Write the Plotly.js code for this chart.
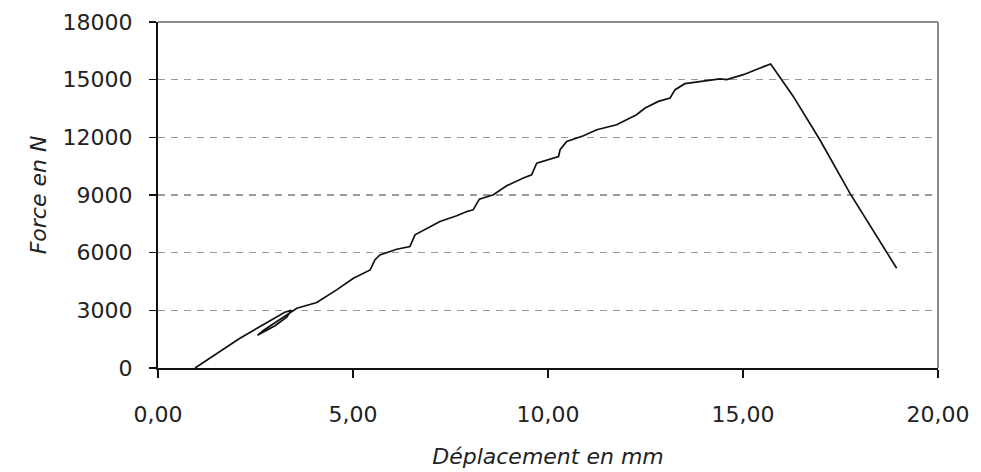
<!DOCTYPE html>
<html>
<head>
<meta charset="utf-8">
<script src="https://cdn.plot.ly/plotly-3.0.1.min.js"></script>
<style>html,body{margin:0;padding:0;background:#fff;}#chart{width:981px;height:472px;}</style>
</head>
<body>
<div id="chart"></div>
<script>
// Displacement (mm) and force (N)
const dispMm = [0.95, 1.50, 2.10, 2.40, 2.70, 3.00, 3.25, 3.42, 3.30, 3.00, 2.75, 2.55, 2.70, 3.00, 3.30, 3.56,
  4.07, 4.58, 5.01, 5.44, 5.56, 5.69, 6.12, 6.46, 6.59, 6.97, 7.23, 7.66, 7.92, 8.08, 8.24, 8.60, 8.94, 9.37,
  9.58, 9.71, 10.05, 10.27, 10.31, 10.48, 10.91, 11.25, 11.76, 12.27, 12.49, 12.83, 13.13, 13.26, 13.51, 13.90,
  14.41, 14.58, 15.01, 15.44, 15.71, 16.29, 16.97, 17.74, 18.43, 18.94];
const forceN = [0, 750, 1550, 1900, 2250, 2600, 2900, 3000, 2650, 2200, 1900, 1700, 1950, 2350, 2750, 3108,
  3403, 4063, 4672, 5104, 5625, 5885, 6180, 6319, 6927, 7357, 7620, 7917, 8142, 8229, 8785, 9010, 9479, 9880,
  10052, 10660, 10868, 11004, 11354, 11788, 12085, 12396, 12656, 13177, 13524, 13871, 14045, 14479, 14792, 14912,
  15037, 15000, 15260, 15608, 15816, 14130, 11875, 9097, 6840, 5191];

const xTickVals = [0, 5, 10, 15, 20];
const xTickText = ['0,00', '5,00', '10,00', '15,00', '20,00'];
const yTickVals = [0, 3000, 6000, 9000, 12000, 15000, 18000];
const yTickText = ['0', '3000', '6000', '9000', '12000', '15000', '18000'];

const fontFam = 'DejaVu Sans, Verdana, sans-serif';

const trace = {
  x: dispMm, y: forceN, type: 'scatter', mode: 'lines',
  line: {color: '#111111', width: 1.7},
  hoverinfo: 'skip'
};

const layout = {
  width: 981, height: 472,
  margin: {l: 158, r: 43, t: 22, b: 104},
  paper_bgcolor: '#ffffff', plot_bgcolor: '#ffffff',
  showlegend: false,
  font: {family: fontFam, size: 22, color: '#222222'},
  xaxis: {
    range: [0, 20], tickvals: xTickVals, ticktext: xTickText,
    showgrid: false, zeroline: false,
    showline: true, linecolor: '#111111', linewidth: 2,
    ticks: 'outside', ticklen: 8, tickwidth: 1.5, tickcolor: '#111111',
    ticklabelstandoff: 18,
    tickfont: {family: fontFam, size: 22, color: '#222222'},
    title: {text: 'Déplacement en mm', font: {family: fontFam, size: 22, color: '#222222', style: 'italic'}, standoff: 22},
    automargin: false, fixedrange: true
  },
  yaxis: {
    range: [0, 18000], tickvals: yTickVals, ticktext: yTickText,
    showgrid: true, gridcolor: '#9a9a9a', gridwidth: 1.5, griddash: '7px,6px',
    zeroline: false,
    showline: true, linecolor: '#111111', linewidth: 2,
    ticks: 'outside', ticklen: 7, tickwidth: 1.5, tickcolor: '#111111',
    ticklabelstandoff: 12,
    tickfont: {family: fontFam, size: 22, color: '#222222'},
    title: {text: 'Force en N', font: {family: fontFam, size: 22, color: '#222222', style: 'italic'}, standoff: 10},
    automargin: false, fixedrange: true
  },
  shapes: [
    {type: 'line', xref: 'paper', yref: 'paper', x0: 0, x1: 1, y0: 1, y1: 1, line: {color: '#8c8c8c', width: 2}},
    {type: 'line', xref: 'paper', yref: 'paper', x0: 1, x1: 1, y0: 0, y1: 1, line: {color: '#8c8c8c', width: 2}}
  ]
};

Plotly.newPlot('chart', [trace], layout, {displayModeBar: false, staticPlot: true});
</script>
</body>
</html>
